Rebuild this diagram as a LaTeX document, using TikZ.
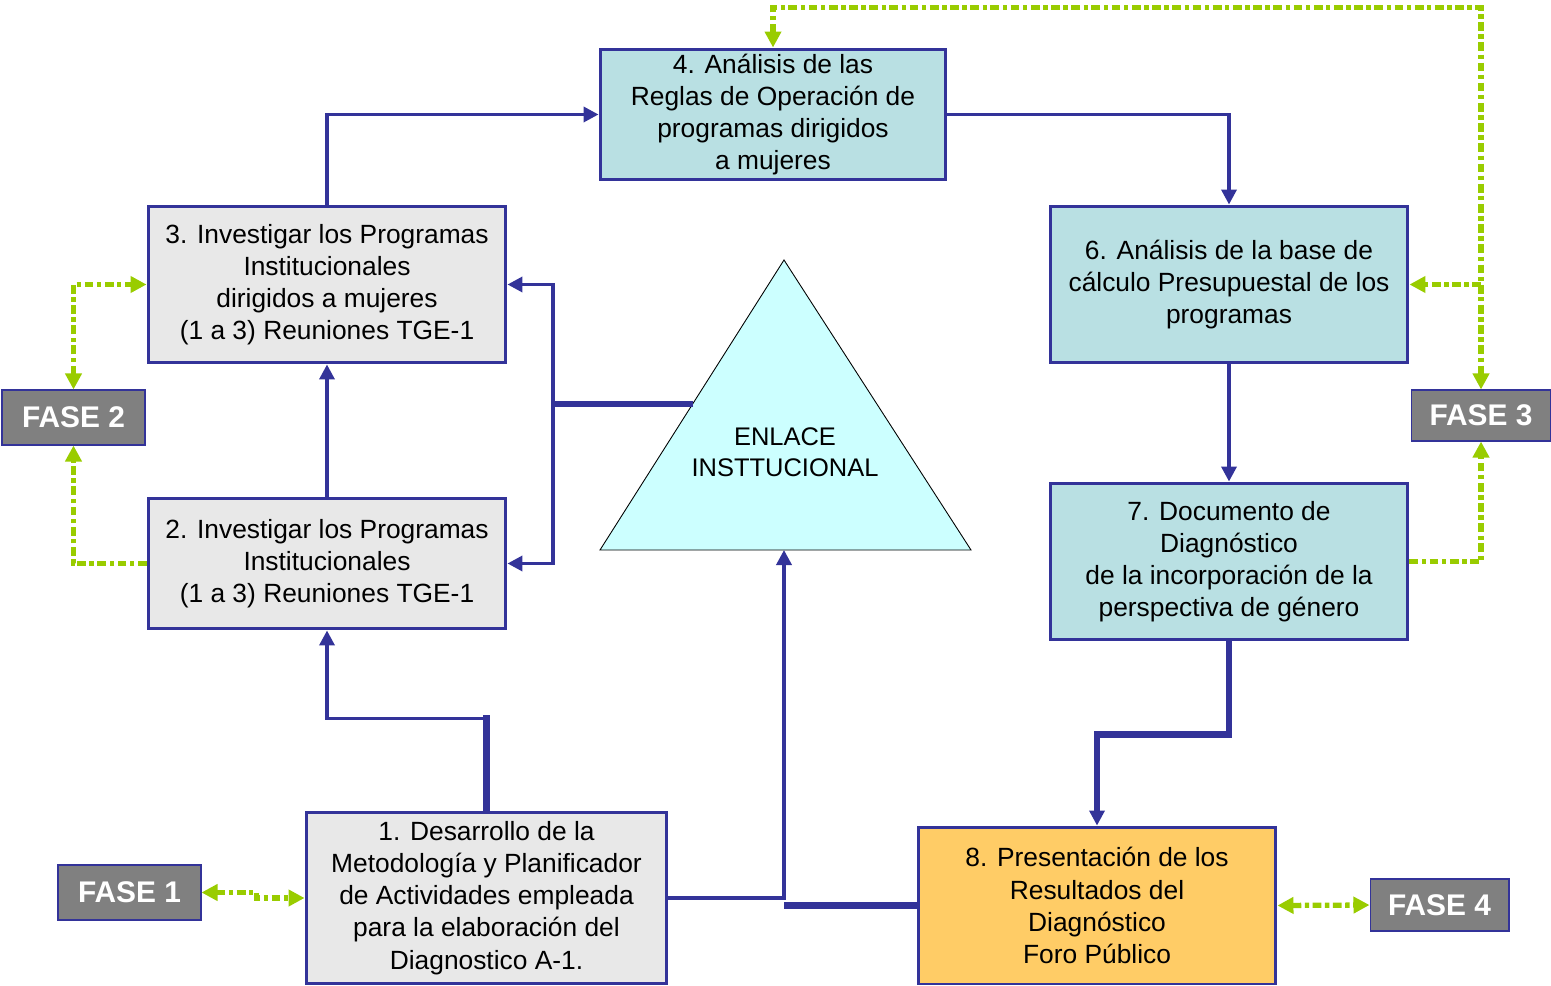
\documentclass[tikz,border=0pt]{standalone}
\usepackage{fontspec}
\setmainfont{Liberation Sans}
\usetikzlibrary{arrows.meta}

\definecolor{linkblue}{HTML}{333399}
\definecolor{tealbox}{HTML}{B9E0E3}
\definecolor{greybox}{HTML}{E8E8E8}
\definecolor{orangebox}{HTML}{FFCC66}
\definecolor{trifill}{HTML}{CCFFFF}
\definecolor{fasegreen}{HTML}{99CC00}
\definecolor{fasegrey}{HTML}{808080}

\begin{document}
\begin{tikzpicture}[x=0.02cm, y=-0.02cm,
  stepbox/.style={rectangle,draw=linkblue,line width=1.7pt,align=center,inner sep=2pt,
    font=\fontsize{15}{18.3}\selectfont},
  fase/.style={rectangle,draw=linkblue,line width=0.6pt,fill=fasegrey,text=white,
    font=\fontsize{17}{20}\selectfont\bfseries},
  flow/.style={draw=linkblue,line width=2pt,-{Triangle[length=0.3cm,width=0.3cm]}},
  heavy/.style={draw=linkblue,line width=3.5pt},
  dots/.style={draw=fasegreen,line width=3pt,dash pattern=on 5pt off 2pt on 2.5pt off 2pt},
  tip/.style={-{Triangle[length=0.32cm,width=0.32cm]}},
  tips/.style={{Triangle[length=0.32cm,width=0.32cm]}-{Triangle[length=0.32cm,width=0.32cm]}}]

\useasboundingbox (0,0) rectangle (1551,986);

% steps
\draw (773,114.5) node[stepbox,fill=tealbox,minimum width=6.92cm,minimum height=2.62cm](b4)
  {4. Análisis de las\\Reglas de Operación de\\programas dirigidos\\a mujeres};
\draw (327,284.5) node[stepbox,fill=greybox,minimum width=7.16cm,minimum height=3.14cm](b3)
  {3. Investigar los Programas\\Institucionales\\dirigidos a mujeres\\(1 a 3) Reuniones TGE-1};
\draw (327,563.5) node[stepbox,fill=greybox,minimum width=7.16cm,minimum height=2.62cm](b2)
  {2. Investigar los Programas\\Institucionales\\(1 a 3) Reuniones TGE-1};
\draw (486.5,898) node[stepbox,fill=greybox,minimum width=7.22cm,minimum height=3.44cm](b1)
  {1. Desarrollo de la\\Metodología y Planificador\\de Actividades empleada\\para la elaboración del\\Diagnostico A-1.};
\draw (1229,284.5) node[stepbox,fill=tealbox,minimum width=7.16cm,minimum height=3.14cm](b6)
  {6. Análisis de la base de\\cálculo Presupuestal de los\\programas};
\draw (1229,561.5) node[stepbox,fill=tealbox,minimum width=7.16cm,minimum height=3.14cm](b7)
  {7. Documento de\\Diagnóstico\\de la incorporación de la\\perspectiva de género};
\draw (1097,905.5) node[stepbox,fill=orangebox,minimum width=7.16cm,minimum height=3.14cm](b8)
  {8. Presentación de los\\Resultados del\\Diagnóstico\\Foro Público};

% phases
\draw (73.5,417.5) node[fase,minimum width=2.86cm,minimum height=1.1cm](f2) {FASE 2};
\draw (1481,415.5) node[fase,minimum width=2.8cm,minimum height=1.02cm](f3) {FASE 3};
\draw (129.5,892.5) node[fase,minimum width=2.86cm,minimum height=1.1cm](f1) {FASE 1};
\draw (1439.5,905) node[fase,minimum width=2.78cm,minimum height=1.04cm](f4) {FASE 4};

% enlace
\draw[fill=trifill,line width=0.5pt] (784,260) -- (971,550) -- (600,550) -- cycle;
\draw (785,452) node[align=center,font=\fontsize{14.5}{17.6}\selectfont](enlace) {ENLACE\\INSTTUCIONAL};
\coordinate (tl) at (693,404);
\coordinate (tb) at (784,550);
\coordinate (split) at (553,404);

% blue links
\draw[flow] (b3.north) |- (b4.west);
\draw[flow] (b4.east) -| (b6.north);
\draw[flow] (b6) -- (b7);
\draw[heavy] (b7.south) -- ++(0,93) -| ([yshift=0.3cm]b8.north);
\draw[flow] ([yshift=0.3cm]b8.north) -- (b8.north);
\draw[heavy,line cap=rect] (b1.north) -- ++(0,-92) coordinate (bend);
\draw[flow] (bend) -| (b2.south);
\draw[flow] (b2) -- (b3);
\draw[heavy] (tl) -- (split);
\draw[flow] (split) |- (b3.east);
\draw[flow] (split) |- (b2.east);
\draw[flow] (b1.east) -| (tb);
\draw[heavy] (b8.west) -- (b8.west -| tb);

% green links
\draw[dots,tips] (f2.north) |- (b3.west);
\draw[dots,tip] (b2.west) -| (f2.south);
\draw[dots,tips] (f1.east) -- ++(55,0) |- (b1.west);
\draw[dots,tips] (b8.east) -- (f4.west);
\draw[dots,tips] (b4.north) -- ++(0,-40) -| (f3.north);
\draw[dots,tip] (f3.north |- b6.east) -- (b6.east);
\draw[dots,tip] (b7.east) -| (f3.south);
\end{tikzpicture}
\end{document}
